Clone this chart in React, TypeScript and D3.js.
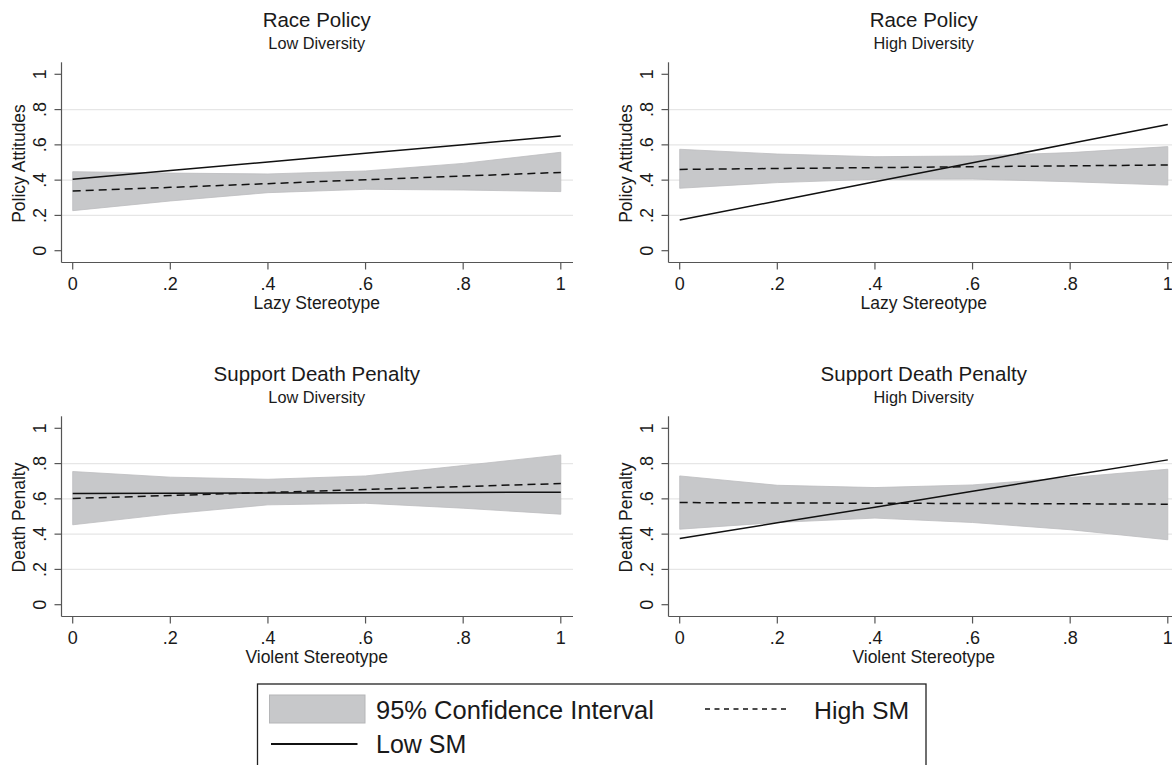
import React from "react";
import * as d3 from "d3";

const xPts = [0, 0.2, 0.4, 0.6, 0.8, 1];
const tickVals = [0, 0.2, 0.4, 0.6, 0.8, 1];
const tickLabels = ["0", ".2", ".4", ".6", ".8", "1"];
const gridVals = [0.2, 0.4, 0.6, 0.8];

const titles = ["Race Policy", "Race Policy", "Support Death Penalty", "Support Death Penalty"];
const subtitles = ["Low Diversity", "High Diversity", "Low Diversity", "High Diversity"];
const xTitles = ["Lazy Stereotype", "Lazy Stereotype", "Violent Stereotype", "Violent Stereotype"];
const yTitles = ["Policy Attitudes", "Policy Attitudes", "Death Penalty", "Death Penalty"];

// Panel 1: Race Policy, Low Diversity
const p1Low = [0.405, 0.454, 0.503, 0.552, 0.601, 0.65];
const p1High = [0.338, 0.359, 0.38, 0.402, 0.423, 0.444];
const p1Up = [0.448, 0.44, 0.435, 0.452, 0.495, 0.558];
const p1Lo = [0.227, 0.282, 0.329, 0.348, 0.344, 0.335];
// Panel 2: Race Policy, High Diversity
const p2Low = [0.174, 0.282, 0.391, 0.499, 0.608, 0.716];
const p2High = [0.461, 0.466, 0.471, 0.476, 0.481, 0.486];
const p2Up = [0.575, 0.548, 0.533, 0.537, 0.556, 0.59];
const p2Lo = [0.354, 0.386, 0.405, 0.406, 0.391, 0.372];
// Panel 3: Death Penalty, Low Diversity
const p3Low = [0.63, 0.632, 0.633, 0.635, 0.636, 0.638];
const p3High = [0.602, 0.619, 0.636, 0.653, 0.67, 0.687];
const p3Up = [0.755, 0.723, 0.711, 0.73, 0.789, 0.849];
const p3Lo = [0.453, 0.515, 0.566, 0.575, 0.547, 0.513];
// Panel 4: Death Penalty, High Diversity
const p4Low = [0.375, 0.464, 0.553, 0.643, 0.732, 0.821];
const p4High = [0.579, 0.577, 0.575, 0.574, 0.572, 0.57];
const p4Up = [0.73, 0.677, 0.664, 0.679, 0.721, 0.768];
const p4Lo = [0.428, 0.466, 0.491, 0.466, 0.425, 0.368];

const lowSeries = [p1Low, p2Low, p3Low, p4Low];
const highSeries = [p1High, p2High, p3High, p4High];
const upSeries = [p1Up, p2Up, p3Up, p4Up];
const loSeries = [p1Lo, p2Lo, p3Lo, p4Lo];

const legendLabels = ["95% Confidence Interval", "High SM", "Low SM"];

const FONT = "'Liberation Sans', Arial, Helvetica, sans-serif";
const TEXT = "#1a1a1a";
const BAND = "#c7c8ca";
const AXIS = "#555";
const GRID = "#e6e6e6";

function Panel({ i, dx, dy }: { i: number; dx: number; dy: number }) {
  const x = d3.scaleLinear().domain([0, 1]).range([72.7, 560.8]);
  const y = d3.scaleLinear().domain([0, 1]).range([250.7, 74.3]);
  const axisX = 61.5;
  const axisY = 262.5;
  const right = 573;
  const top = 62.3;
  const cx = (x(0) + x(1)) / 2;

  const band = d3
    .area<number>()
    .x((_, k) => x(xPts[k]))
    .y0((_, k) => y(loSeries[i][k]))
    .y1((d) => y(d));
  const line = d3
    .line<number>()
    .x((_, k) => x(xPts[k]))
    .y((d) => y(d));

  return (
    <g transform={`translate(${dx},${dy})`}>
      <text x={cx} y={27} textAnchor="middle" fontSize={20.5} fill={TEXT} fontFamily={FONT}>
        {titles[i]}
      </text>
      <text x={cx} y={49} textAnchor="middle" fontSize={16.3} fill={TEXT} fontFamily={FONT}>
        {subtitles[i]}
      </text>
      {gridVals.map((g) => (
        <line key={g} x1={axisX} x2={right} y1={y(g)} y2={y(g)} stroke={GRID} strokeWidth={1.2} />
      ))}
      <path d={band(upSeries[i]) || ""} fill={BAND} stroke="#bcbdbf" strokeWidth={0.8} />
      <path d={line(highSeries[i]) || ""} fill="none" stroke="#111" strokeWidth={1.5} strokeDasharray="8,5" />
      <path d={line(lowSeries[i]) || ""} fill="none" stroke="#111" strokeWidth={1.5} />
      <line x1={axisX} x2={axisX} y1={top} y2={axisY} stroke={AXIS} strokeWidth={1.2} />
      <line x1={axisX} x2={right} y1={axisY} y2={axisY} stroke={AXIS} strokeWidth={1.2} />
      {tickVals.map((t, k) => (
        <g key={"y" + k}>
          <line x1={axisX - 7} x2={axisX} y1={y(t)} y2={y(t)} stroke={AXIS} strokeWidth={1.2} />
          <text
            transform={`translate(${39.5},${y(t)}) rotate(-90)`}
            textAnchor="middle"
            dominantBaseline="central"
            fontSize={18}
            fill={TEXT}
            fontFamily={FONT}
          >
            {tickLabels[k]}
          </text>
        </g>
      ))}
      {tickVals.map((t, k) => (
        <g key={"x" + k}>
          <line x1={x(t)} x2={x(t)} y1={axisY} y2={axisY + 7} stroke={AXIS} strokeWidth={1.2} />
          <text x={x(t)} y={289.5} textAnchor="middle" fontSize={18} fill={TEXT} fontFamily={FONT}>
            {tickLabels[k]}
          </text>
        </g>
      ))}
      <text x={cx} y={309} textAnchor="middle" fontSize={17.5} fill={TEXT} fontFamily={FONT}>
        {xTitles[i]}
      </text>
      <text
        transform={`translate(${18.5},${(y(0) + y(1)) / 2 + 1}) rotate(-90)`}
        textAnchor="middle"
        dominantBaseline="central"
        fontSize={17.5}
        fill={TEXT}
        fontFamily={FONT}
      >
        {yTitles[i]}
      </text>
    </g>
  );
}

export default function App() {
  const offsets = [
    [0, 0],
    [607, 0],
    [0, 354],
    [607, 354],
  ];
  return (
    <svg
      width={1172}
      height={765}
      style={{ position: "absolute", left: 0, top: 0, background: "#fff" }}
    >
      <rect x={0} y={0} width={1172} height={765} fill="#fff" />
      {offsets.map(([dx, dy], i) => (
        <Panel key={i} i={i} dx={dx} dy={dy} />
      ))}
      <g>
        <rect x={257.5} y={684} width={668.5} height={90} fill="#fff" stroke="#222" strokeWidth={1.3} />
        <rect x={269.5} y={695} width={95.5} height={28} fill={BAND} stroke="#b5b6b8" strokeWidth={1} />
        <text x={376} y={719} fontSize={25.5} fill={TEXT} fontFamily={FONT}>
          {legendLabels[0]}
        </text>
        <line x1={705} x2={790} y1={709} y2={709} stroke="#111" strokeWidth={1.5} strokeDasharray="5,4.5" />
        <text x={814} y={719} fontSize={24.8} fill={TEXT} fontFamily={FONT}>
          {legendLabels[1]}
        </text>
        <line x1={271} x2={357.5} y1={744} y2={744} stroke="#111" strokeWidth={1.8} />
        <text x={376} y={753} fontSize={25} fill={TEXT} fontFamily={FONT}>
          {legendLabels[2]}
        </text>
      </g>
    </svg>
  );
}
